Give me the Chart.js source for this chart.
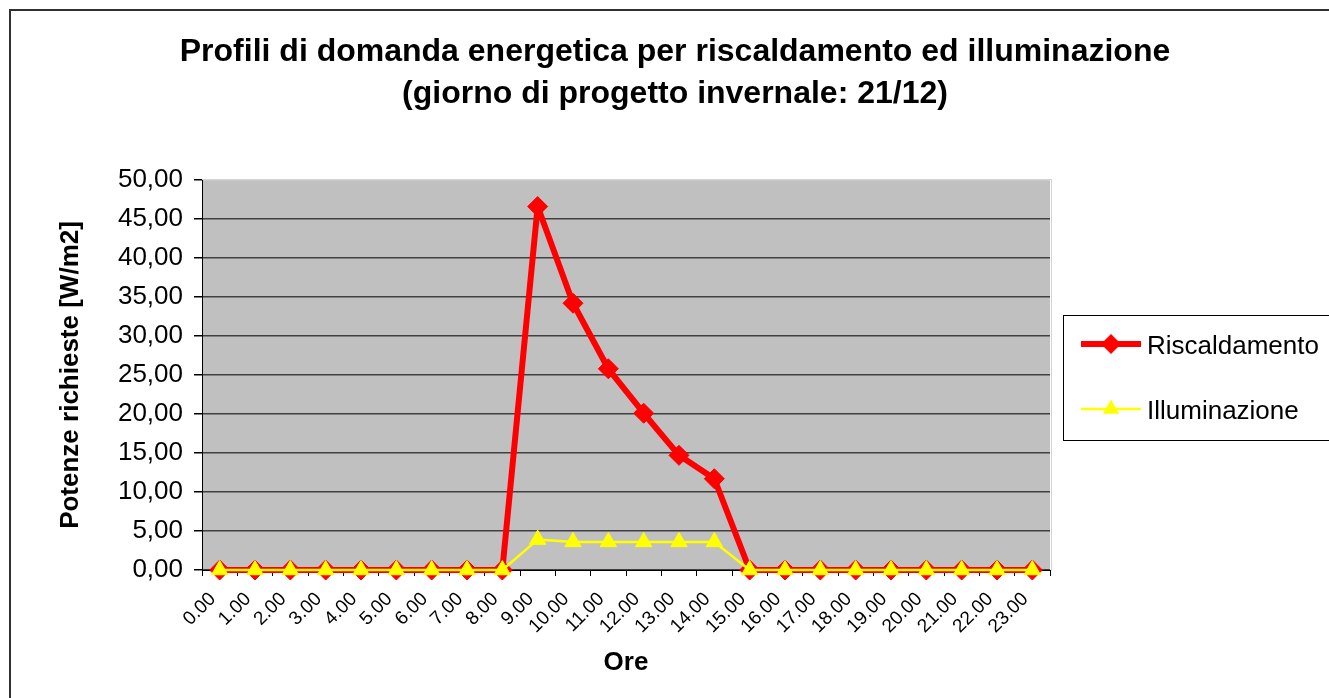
<!DOCTYPE html>
<html lang="it">
<head>
<meta charset="utf-8">
<title>Profili di domanda energetica</title>
<script src="https://cdn.jsdelivr.net/npm/chart.js"></script>
<style>
  html, body { margin: 0; padding: 0; background: #fff; }
  canvas { display: block; }
</style>
</head>
<body>
<canvas id="grafico" width="1329" height="698"></canvas>
<script>
  // Ore del giorno di progetto
  const ore = ['0.00', '1.00', '2.00', '3.00', '4.00', '5.00', '6.00', '7.00',
               '8.00', '9.00', '10.00', '11.00', '12.00', '13.00', '14.00', '15.00',
               '16.00', '17.00', '18.00', '19.00', '20.00', '21.00', '22.00', '23.00'];

  // Potenze richieste [W/m2]
  const riscaldamento = [0, 0, 0, 0, 0, 0, 0, 0, 0, 46.6, 34.2, 25.8,
                         20.1, 14.7, 11.7, 0, 0, 0, 0, 0, 0, 0, 0, 0];
  const illuminazione = [0, 0, 0, 0, 0, 0, 0, 0, 0, 3.9, 3.6, 3.6,
                         3.6, 3.6, 3.6, 0, 0, 0, 0, 0, 0, 0, 0, 0];

  const titolo = ['Profili di domanda energetica per riscaldamento ed illuminazione',
                  '(giorno di progetto invernale: 21/12)'];

  const FONT = "'Liberation Sans', Arial, sans-serif";

  // simbolo della legenda (rombo o triangolo)
  function simbolo(ctx, stile, x, y, r, colore) {
    ctx.beginPath();
    if (stile === 'rectRot') {
      ctx.moveTo(x - r, y);
      ctx.lineTo(x, y - r);
      ctx.lineTo(x + r, y);
      ctx.lineTo(x, y + r);
    } else {
      ctx.moveTo(x, y - r);
      ctx.lineTo(x + r * 0.866, y + r / 2);
      ctx.lineTo(x - r * 0.866, y + r / 2);
    }
    ctx.closePath();
    ctx.fillStyle = colore;
    ctx.fill();
  }

  // sfondo grigio, cornice, titolo e legenda
  const decorazioni = {
    id: 'decorazioni',
    beforeDraw(chart) {
      const { ctx, chartArea: a } = chart;
      ctx.save();
      ctx.fillStyle = '#fff';
      ctx.fillRect(0, 0, chart.width, chart.height);
      ctx.fillStyle = '#c0c0c0';
      ctx.fillRect(a.left, a.top, a.right - a.left, a.bottom - a.top);
      ctx.strokeStyle = '#d4d4d4';
      ctx.lineWidth = 1;
      ctx.strokeRect(a.left + 0.5, a.top - 0.5, a.right - a.left + 1, a.bottom - a.top + 1);
      ctx.restore();
    },
    afterDraw(chart) {
      const ctx = chart.ctx;
      ctx.save();

      // cornice esterna
      ctx.strokeStyle = '#303030';
      ctx.lineWidth = 2;
      ctx.strokeRect(10, 10, chart.width + 20, chart.height + 20);

      // titolo
      ctx.fillStyle = '#000';
      ctx.font = 'bold 32px ' + FONT;
      ctx.textAlign = 'center';
      ctx.textBaseline = 'middle';
      ctx.fillText(titolo[0], 675, 52);
      ctx.fillText(titolo[1], 675, 94);

      // legenda
      ctx.strokeStyle = '#000';
      ctx.lineWidth = 1;
      ctx.strokeRect(1063.5, 315.5, 300, 125);
      const righe = [344, 409];
      chart.data.datasets.forEach((ds, i) => {
        const y = righe[i];
        ctx.strokeStyle = ds.borderColor;
        ctx.lineWidth = ds.borderWidth;
        ctx.beginPath();
        ctx.moveTo(1081, y);
        ctx.lineTo(1141, y);
        ctx.stroke();
        simbolo(ctx, ds.pointStyle, 1111, y, ds.pointRadius, ds.pointBackgroundColor);
        ctx.fillStyle = '#000';
        ctx.font = '26px ' + FONT;
        ctx.textAlign = 'left';
        ctx.fillText(ds.label, 1147, y + 3);
      });
      ctx.restore();
    }
  };

  const ctx = document.getElementById('grafico').getContext('2d');
  const grafico = new Chart(ctx, {
    type: 'line',
    data: {
      labels: ore,
      datasets: [
        {
          label: 'Riscaldamento',
          data: riscaldamento,
          borderColor: '#ff0000',
          borderWidth: 6,
          borderJoinStyle: 'round',
          pointStyle: 'rectRot',
          pointRadius: 10,
          pointBackgroundColor: '#ff0000',
          pointBorderColor: '#ff0000',
          pointBorderWidth: 1,
          tension: 0,
          clip: false,
          order: 2
        },
        {
          label: 'Illuminazione',
          data: illuminazione,
          borderColor: '#ffff00',
          borderWidth: 2.5,
          borderJoinStyle: 'round',
          pointStyle: 'triangle',
          pointRadius: 9.5,
          pointBackgroundColor: '#ffff00',
          pointBorderColor: '#ffff00',
          pointBorderWidth: 1,
          tension: 0,
          clip: false,
          order: 1
        }
      ]
    },
    options: {
      responsive: false,
      animation: false,
      devicePixelRatio: 1,
      layout: { padding: { left: 0, top: 180, right: 279, bottom: 0 } },
      plugins: {
        legend: { display: false },
        title: { display: false },
        tooltip: { enabled: false }
      },
      scales: {
        x: {
          offset: true,
          afterFit(s) { s.height = 128; },
          grid: {
            offset: true,
            drawOnChartArea: false,
            tickLength: 6,
            tickColor: '#000'
          },
          border: { color: '#000', width: 1 },
          ticks: {
            autoSkip: false,
            maxRotation: 45,
            minRotation: 45,
            padding: 12,
            labelOffset: -7,
            color: '#000',
            font: { family: FONT, size: 19 }
          },
          title: {
            display: true,
            text: 'Ore',
            color: '#000',
            font: { family: FONT, size: 26, weight: 'bold' },
            padding: { top: 0, bottom: 20 }
          }
        },
        y: {
          min: 0,
          max: 50,
          afterFit(s) { s.width = 202; },
          grid: {
            color: (c) => c.tick && c.tick.value === 50 ? '#d4d4d4' : '#404040',
            lineWidth: 1.5,
            tickLength: 8,
            tickColor: '#000'
          },
          border: { color: '#000', width: 1 },
          ticks: {
            stepSize: 5,
            padding: 11,
            color: '#000',
            font: { family: FONT, size: 26 },
            callback: (v) => v.toFixed(2).replace('.', ',')
          },
          title: {
            display: true,
            text: 'Potenze richieste [W/m2]',
            color: '#000',
            font: { family: FONT, size: 26, weight: 'bold' },
            padding: { top: 55, bottom: 0 }
          }
        }
      }
    },
    plugins: [decorazioni]
  });
</script>
</body>
</html>
